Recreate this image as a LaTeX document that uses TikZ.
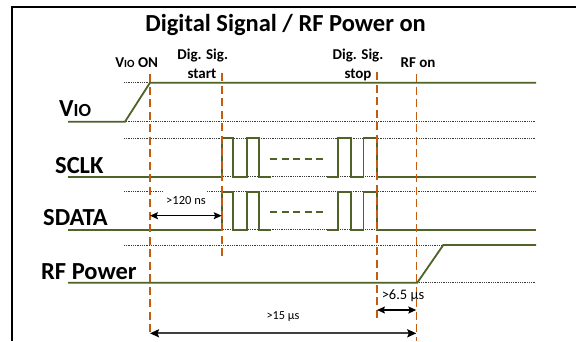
\documentclass[tikz,border=0pt]{standalone}
\usepackage{fontspec}
\setmainfont{Carlito}
\usetikzlibrary{arrows.meta}
\definecolor{wavec}{RGB}{79,98,40}
\definecolor{markc}{RGB}{197,90,17}
\definecolor{gridc}{RGB}{60,60,60}
\definecolor{dimc}{RGB}{64,64,64}
\begin{document}
\begin{tikzpicture}[x=1pt,y=-1pt,
  lvl/.style={draw=gridc, line width=0.8pt, dash pattern=on 0.9pt off 0.9pt},
  sig/.style={draw=wavec, line width=1.8pt, line join=miter},
  sigdash/.style={draw=wavec, line width=1.8pt, dash pattern=on 7pt off 4.5pt},
  vmark/.style={draw=markc, line width=1.6pt, dash pattern=on 8pt off 4.5pt},
  biglabel/.style={font=\fontsize{24.5}{28}\selectfont\bfseries, inner sep=0pt, anchor=base west},
  toplabel/.style={font=\fontsize{15}{18}\selectfont\bfseries, inner sep=0pt, anchor=base},
  dimlabel/.style={font=\fontsize{12.5}{15}\selectfont, inner sep=0pt},
  tip/.style={Stealth[length=8pt,width=7pt,inset=1.5pt]},
  dimarrow/.style={draw=black, line width=1.2pt, {Stealth[length=8pt,width=7pt,inset=1.5pt]}-{Stealth[length=8pt,width=7pt,inset=1.5pt]}},
  dimarrowbig/.style={draw=dimc, line width=2pt, {Stealth[length=9pt,width=8pt,inset=1.5pt,color=black]}-{Stealth[length=9pt,width=8pt,inset=1.5pt,color=black]}}
]
\useasboundingbox (0,0) rectangle (576,341);
\fill[white] (0,0) rectangle (576,341);

% frame
\draw[line width=2pt, line join=miter] (11.7,341) -- (11.7,6.7) -- (576,6.7);

% title
\node[font=\fontsize{24.5}{28}\selectfont\bfseries, inner sep=0pt, anchor=base] (title) at (285.6,31) {Digital Signal / RF Power on};

% reference levels (dotted)
\foreach \yy in {82.7,121.7,138.3,176.7,229.7,245,282.7}
  \draw[lvl] (124,\yy) -- (535,\yy);
\draw[lvl] (124,191.7) -- (163,191.7);
\draw[lvl] (207,191.7) -- (535,191.7);

% VIO
\draw[sig] (68,121.7) -- (125,121.7) -- (150,82.7) -- (536,82.7);

% SCLK
\draw[sig] (68,176.7) -- (221.7,176.7) -- (221.7,138.3) -- (233,138.3) -- (233,176.7)
  -- (246.7,176.7) -- (246.7,138.3) -- (259,138.3) -- (259,176.7) -- (271,176.7);
\draw[sigdash] (270,159) -- (323,159);
\draw[sig] (326.7,176.7) -- (338.3,176.7) -- (338.3,138.3) -- (351,138.3) -- (351,176.7)
  -- (363.5,176.7) -- (363.5,138.3) -- (376.7,138.3) -- (376.7,176.7) -- (536,176.7);

% SDATA
\draw[sig] (68,229.7) -- (221.7,229.7) -- (221.7,191.7) -- (233,191.7) -- (233,229.7)
  -- (246.7,229.7) -- (246.7,191.7) -- (259,191.7) -- (259,229.7) -- (271,229.7);
\draw[sigdash] (270,211.7) -- (323,211.7);
\draw[sig] (326.7,229.7) -- (338.3,229.7) -- (338.3,191.7) -- (351,191.7) -- (351,229.7)
  -- (363.5,229.7) -- (363.5,191.7) -- (376.7,191.7) -- (376.7,229.7) -- (536,229.7);

% RF Power
\draw[sig] (68,282.7) -- (417.3,282.7) -- (443.3,245) -- (536,245);

% vertical markers
\coordinate (m1t) at (150,74);    \coordinate (m1b) at (150,334);
\coordinate (m2t) at (221.7,73);  \coordinate (m2b) at (221.7,257);
\coordinate (m3t) at (377,72);    \coordinate (m3b) at (377,318);
\coordinate (m4t) at (416.3,74);  \coordinate (m4b) at (416.3,341);
\draw[vmark] (m1t) -- (m1b);
\draw[vmark] (m2t) -- (m2b);
\draw[vmark] (m3t) -- (m3b);
\draw[vmark] (m4t) -- (m4b);

% signal labels
\node[biglabel] (lvio) at (59,116) {V{\fontsize{18.5}{20}\selectfont IO}};
\node[biglabel] (lsclk) at (55,173) {SCLK};
\node[biglabel] (lsdata) at (43,225.5) {SDATA};
\node[biglabel] (lrf) at (41,279.5) {RF Power};

% event labels
\node[toplabel] (tvio) at (136.7,67.7) {V{\fontsize{11}{12}\selectfont IO} ON};
\node[toplabel] (tstartA) at (202.7,59.3) {Dig. Sig.};
\node[toplabel] (tstartB) at (202,78.3) {start};
\node[toplabel] (tstopA) at (358,59.3) {Dig. Sig.};
\node[toplabel] (tstopB) at (358,78.3) {stop};
\node[toplabel] (trfon) at (418,67.7) {RF on};

% timing dimensions
\coordinate (d1l) at (150,215.7);  \coordinate (d1r) at (221.7,215.7);
\coordinate (d2l) at (377,310);    \coordinate (d2r) at (416.3,310);
\coordinate (d3l) at (150,333.3);  \coordinate (d3r) at (416.3,333.3);
\draw[dimarrow] (d1l) -- (d1r);
\draw[dimarrow] (d2l) -- (d2r);
\draw[dimarrowbig] (d3l) -- (d3r);
\node[dimlabel] (t120) at (186,200) {>120 ns};
\node[dimlabel, font=\fontsize{14.5}{17}\selectfont] (t65) at (403,296) {>6.5 µs};
\node[dimlabel, font=\fontsize{12.3}{15}\selectfont] (t15) at (283,317) {>15 µs};
\end{tikzpicture}
\end{document}
